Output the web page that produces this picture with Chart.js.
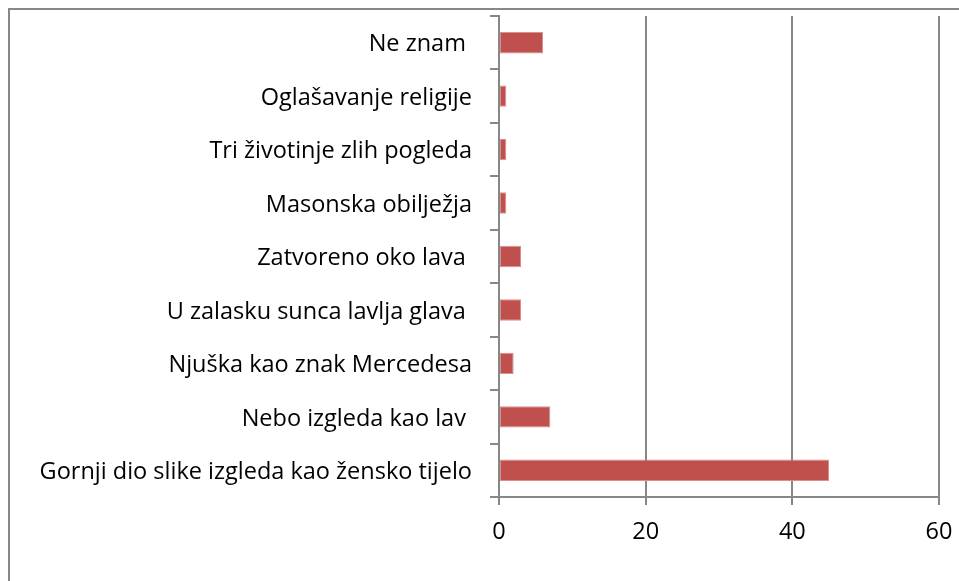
<!DOCTYPE html>
<html>
<head>
<meta charset="utf-8">
<script src="https://cdn.jsdelivr.net/npm/chart.js@4"></script>
<style>
  html, body { margin: 0; padding: 0; background: #ffffff; overflow: hidden; }
  #wrap { position: relative; width: 959px; height: 581px; }
  #frame {
    position: absolute; left: 8px; top: 8px; width: 1000px; height: 640px;
    border-left: 2px solid #878787; border-top: 2px solid #878787;
    box-sizing: border-box; pointer-events: none;
  }
  canvas { position: absolute; left: 0; top: 0; }
</style>
</head>
<body>
<div id="wrap">
  <canvas id="chart" width="959" height="581"></canvas>
  <div id="frame"></div>
</div>
<script>
// Answer categories, top to bottom
const categories = [
  'Ne znam ',
  'Oglašavanje religije',
  'Tri životinje zlih pogleda',
  'Masonska obilježja',
  'Zatvoreno oko lava ',
  'U zalasku sunca lavlja glava ',
  'Njuška kao znak Mercedesa',
  'Nebo izgleda kao lav ',
  'Gornji dio slike izgleda kao žensko tijelo'
];
// Number of answers per category
const counts = [6, 1, 1, 1, 3, 3, 2, 7, 45];
// Value axis range and step
const axisMin = 0;
const axisMax = 60;
const axisStep = 20;

const FONT = { family: '"Open Sans", Lato, sans-serif', size: 23.5 };
const GRID = '#878787';

new Chart(document.getElementById('chart'), {
  type: 'bar',
  data: {
    labels: categories,
    datasets: [{
      data: counts,
      backgroundColor: '#C0504D',
      borderColor: '#D7908E',
      borderWidth: 1,
      borderSkipped: false,
      barPercentage: 0.4,
      categoryPercentage: 1.0
    }]
  },
  options: {
    indexAxis: 'y',
    responsive: false,
    animation: false,
    events: [],
    layout: { padding: { top: 16, right: 20, left: 0, bottom: 0 } },
    plugins: { legend: { display: false }, tooltip: { enabled: false } },
    scales: {
      y: {
        type: 'category',
        offset: true,
        border: { display: true, color: GRID, width: 2 },
        grid: {
          display: true, offset: true, drawOnChartArea: false,
          drawTicks: true, tickLength: 9, color: GRID, lineWidth: 2
        },
        ticks: { color: '#000000', font: FONT, padding: 18, autoSkip: false, labelOffset: 2 },
        afterFit: (s) => { s.width = 499; s.paddingTop = 0; s.paddingBottom = 0; }
      },
      x: {
        min: axisMin, max: axisMax,
        border: { display: true, color: GRID, width: 2 },
        grid: {
          display: true, drawOnChartArea: true, drawTicks: true,
          tickLength: 8, color: GRID, lineWidth: 2
        },
        ticks: { stepSize: axisStep, color: '#000000', font: FONT, padding: 13 },
        afterFit: (s) => { s.height = 84; s.paddingLeft = 0; s.paddingRight = 0; }
      }
    }
  }
});
</script>
</body>
</html>
